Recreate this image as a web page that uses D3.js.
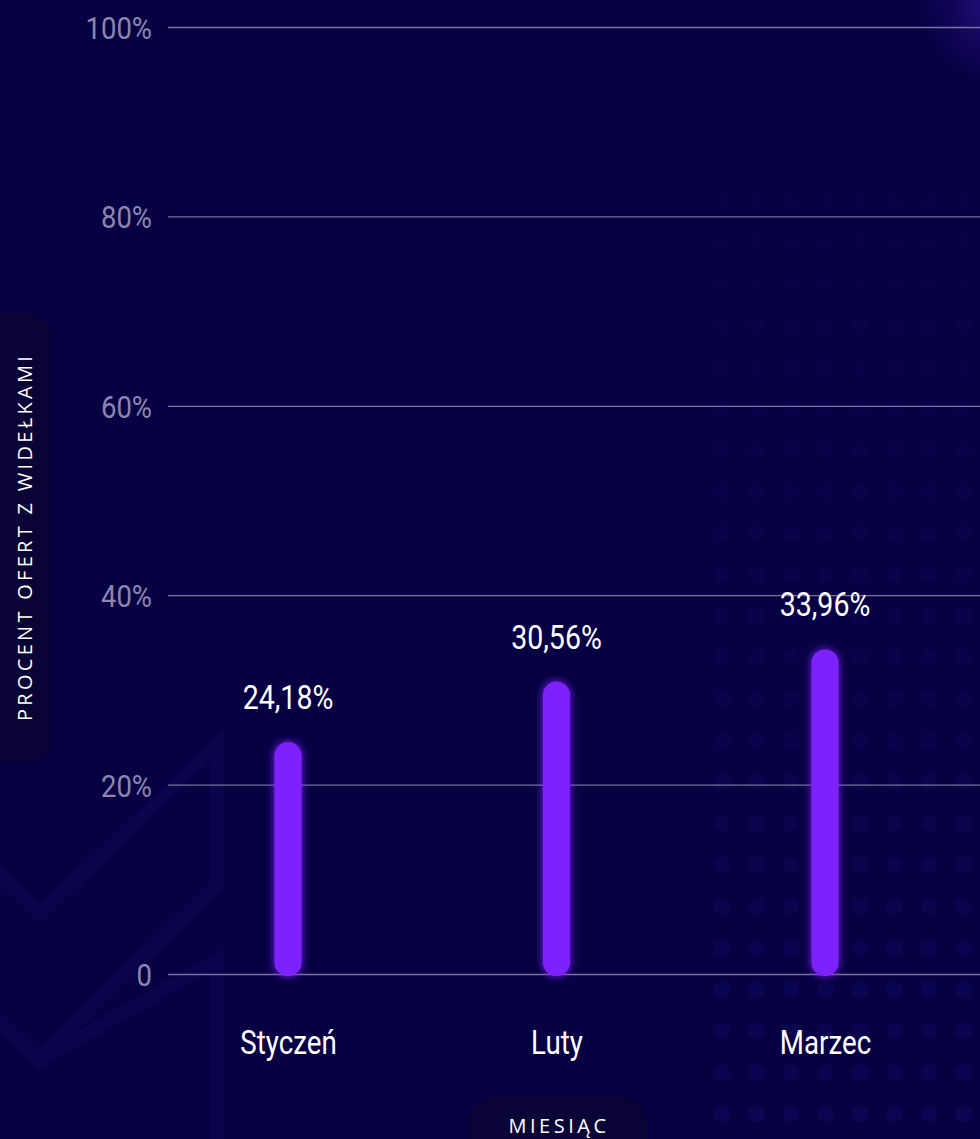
<!DOCTYPE html>
<html><head><meta charset="utf-8">
<script src="https://cdn.jsdelivr.net/npm/d3@7"></script>
<style>
html,body{margin:0;padding:0;background:#070143;}
svg{display:block;}
</style></head>
<body>
<svg id="c" width="980" height="1139"></svg>
<script>
const months = ["Styczeń", "Luty", "Marzec"];
const shares = [24.18, 30.56, 33.96];
const valueLabels = ["24,18%", "30,56%", "33,96%"];
const yTicks = [0, 20, 40, 60, 80, 100];
const yTickLabels = ["0", "20%", "40%", "60%", "80%", "100%"];
const yTitle = "PROCENT OFERT Z WIDEŁKAMI";
const xTitle = "MIESIĄC";

const W = 980, H = 1139;
const svg = d3.select("#c");
const FONT = "Roboto, 'DejaVu Sans', sans-serif";
const SX = 0.84; // horizontal condensing of the chart's narrow font

const defs = svg.append("defs");
const rg = defs.append("radialGradient").attr("id","corner");
rg.append("stop").attr("offset","0%").attr("stop-color","#3a1aa0").attr("stop-opacity",0.75);
rg.append("stop").attr("offset","60%").attr("stop-color","#2a1088").attr("stop-opacity",0.3);
rg.append("stop").attr("offset","100%").attr("stop-color","#2a1088").attr("stop-opacity",0);
const fade = defs.append("linearGradient").attr("id","fade").attr("x1",0).attr("y1",0).attr("x2",0).attr("y2",1);
fade.append("stop").attr("offset","0%").attr("stop-color","#fff").attr("stop-opacity",0.15);
fade.append("stop").attr("offset","55%").attr("stop-color","#fff").attr("stop-opacity",0.55);
fade.append("stop").attr("offset","100%").attr("stop-color","#fff").attr("stop-opacity",0.9);
defs.append("mask").attr("id","dotmask").attr("maskUnits","userSpaceOnUse")
  .append("rect").attr("x",690).attr("y",180).attr("width",300).attr("height",960).attr("fill","url(#fade)");
const glow = defs.append("filter").attr("id","glow").attr("x","-100%").attr("y","-20%").attr("width","300%").attr("height","140%");
glow.append("feGaussianBlur").attr("in","SourceGraphic").attr("stdDeviation",4).attr("result","b");
const fm = glow.append("feMerge");
fm.append("feMergeNode").attr("in","b");
fm.append("feMergeNode").attr("in","SourceGraphic");

// background
svg.append("rect").attr("width",W).attr("height",H).attr("fill","#070143");
svg.append("circle").attr("cx",1000).attr("cy",5).attr("r",80).attr("fill","url(#corner)");

// faint dot grid decoration (right side)
const dotG = svg.append("g").attr("fill","#0c0654").attr("mask","url(#dotmask)");
d3.range(201, 1140, 41.5).forEach(cy => {
  d3.range(722, 990, 34.5).forEach(cx => {
    dotG.append("circle").attr("cx",cx).attr("cy",cy).attr("r",8.5);
  });
});
// faint chevrons bottom-left
const chev = svg.append("g").attr("fill","none").attr("stroke","#09044b").attr("stroke-width",14);
chev.append("path").attr("d","M-10,866 L40,914 L217,745 L217,885 L35,1062");
chev.append("path").attr("d","M-10,1012 L40,1060 L217,960 L217,1139");

const x = d3.scalePoint().domain(months).range([288, 825]);
const y = d3.scaleLinear().domain([0, 100]).range([974, 27]);

// gridlines via axis
const yAxis = d3.axisLeft(y).tickValues(yTicks).tickSize(-(W - 168)).tickPadding(16)
  .tickFormat((d,i) => yTickLabels[i]);
const gy = svg.append("g").attr("transform","translate(168,0)").call(yAxis);
gy.select(".domain").remove();
gy.selectAll(".tick line").attr("stroke","#77739f").attr("stroke-width",1.3);
gy.selectAll(".tick text").attr("fill","#8a86b0").attr("font-family",FONT).attr("font-size",32)
  .attr("x",-16/0.86).attr("transform","scale(0.86,1)").attr("dy","0.36em");

// bars
const bw = 27;
svg.append("g").selectAll("rect").data(shares).join("rect")
  .attr("x",(d,i) => x(months[i]) - bw/2)
  .attr("y",d => y(d) - 3)
  .attr("width",bw)
  .attr("height",d => y(0) - y(d) + 5)
  .attr("rx",bw/2).attr("ry",bw/2)
  .attr("fill","#7d24fc")
  .attr("filter","url(#glow)");

// value labels
svg.append("g").selectAll("text").data(shares).join("text")
  .attr("transform",(d,i) => `translate(${x(months[i])},${y(d) - 36}) scale(${SX},1)`)
  .attr("text-anchor","middle")
  .attr("fill","#ffffff")
  .attr("font-family",FONT).attr("font-size",34)
  .text((d,i) => valueLabels[i]);

// x axis labels
const xAxis = d3.axisBottom(x).tickSize(0).tickPadding(0);
const gx = svg.append("g").attr("transform","translate(0,1030)").call(xAxis);
gx.select(".domain").remove();
gx.selectAll(".tick text").attr("fill","#ffffff").attr("font-family",FONT).attr("font-size",33)
  .attr("transform",`scale(${SX},1)`).attr("dy","0.74em");

// y title pill
svg.append("rect").attr("x",-30).attr("y",313).attr("width",83).attr("height",449).attr("rx",28)
  .attr("fill","#0a0335");
svg.append("text").attr("transform","translate(32,537) rotate(-90)")
  .attr("text-anchor","middle").attr("fill","#ffffff")
  .attr("font-family","'Open Sans',sans-serif").attr("font-size",20).attr("letter-spacing",3.3)
  .text(yTitle);

// x title pill
svg.append("rect").attr("x",468).attr("y",1096).attr("width",178).attr("height",80).attr("rx",28)
  .attr("fill","#0a0335");
svg.append("text").attr("x",559).attr("y",1133)
  .attr("text-anchor","middle").attr("fill","#ffffff")
  .attr("font-family","'Open Sans',sans-serif").attr("font-size",20).attr("letter-spacing",3.5)
  .text(xTitle);
</script>
</body></html>
